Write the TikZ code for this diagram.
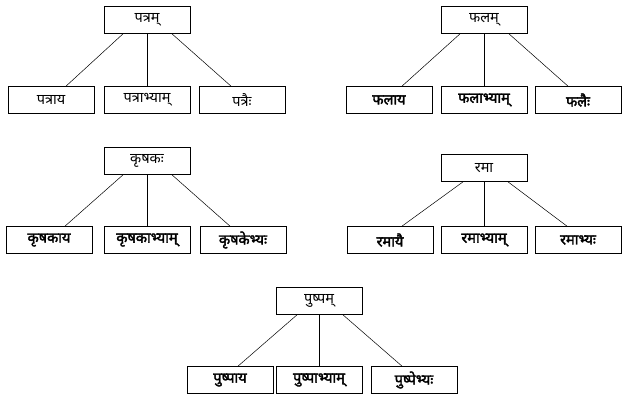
\documentclass[tikz,border=0pt]{standalone}
\usepackage{fontspec}
\newfontfamily\deva[Script=Devanagari,AutoFakeBold=2.5]{Noto Sans}
\usepackage{tikz}
\tikzstyle{shabda}=[draw, line width=.7pt, minimum width=86pt, minimum height=27pt,
  inner sep=0pt, font=\deva\fontsize{14.5}{16}\selectfont]
\tikzstyle{roop}=[shabda, font=\deva\bfseries\fontsize{14.5}{16}\selectfont]
\tikzstyle{shakha}=[line width=.5pt]

\begin{document}
\begin{tikzpicture}[x=1pt,y=-1pt]
    \useasboundingbox (0,0) rectangle (632,409);
    % patram
    \node[shabda] (P) at (147,20) {पत्रम्};
    \node[shabda] (P1) at (147-96,100) {पत्राय};
    \node[shabda] (P2) at (147,100) {पत्राभ्याम्};
    \node[shabda] (P3) at (147+95,100) {पत्रैः};
    \draw[shakha] ([xshift=-24pt]P.south) -- ([xshift=15pt]P1.north);
    \draw[shakha] (P.south) -- (P2.north);
    \draw[shakha] ([xshift=25pt]P.south) -- ([xshift=-11pt]P3.north);
    % phalam
    \node[shabda] (F) at (484,20) {फलम्};
    \node[roop] (F1) at (484-95,100) {फलाय};
    \node[roop] (F2) at (484,100) {फलाभ्याम्};
    \node[roop] (F3) at (484+94,100) {फलैः};
    \draw[shakha] ([xshift=-24pt]F.south) -- ([xshift=13pt]F1.north);
    \draw[shakha] (F.south) -- (F2.north);
    \draw[shakha] ([xshift=25pt]F.south) -- ([xshift=-10pt]F3.north);
    % krishakah
    \node[shabda] (K) at (147,161) {कृषकः};
    \node[roop] (K1) at (147-98,240) {कृषकाय};
    \node[roop] (K2) at (147,240) {कृषकाभ्याम्};
    \node[roop] (K3) at (147+96,240) {कृषकेभ्यः};
    \draw[shakha] ([xshift=-24pt]K.south) -- ([xshift=16pt]K1.north);
    \draw[shakha] (K.south) -- (K2.north);
    \draw[shakha] ([xshift=25pt]K.south) -- ([xshift=-13pt]K3.north);
    % rama
    \node[shabda] (R) at (484,168) {रमा};
    \node[roop] (R1) at (484-94,240) {रमायै};
    \node[roop] (R2) at (484,240) {रमाभ्याम्};
    \node[roop] (R3) at (484+94,240) {रमाभ्यः};
    \draw[shakha] ([xshift=-21pt]R.south) -- ([xshift=12pt]R1.north);
    \draw[shakha] (R.south) -- (R2.north);
    \draw[shakha] ([xshift=24pt]R.south) -- ([xshift=-11pt]R3.north);
    % pushpam
    \node[shabda] (S) at (319,301) {पुष्पम्};
    \node[roop] (S1) at (319-89,380) {पुष्पाय};
    \node[roop] (S2) at (319,380) {पुष्पाभ्याम्};
    \node[roop] (S3) at (319+95,380) {पुष्पेभ्यः};
    \draw[shakha] ([xshift=-22pt]S.south) -- ([xshift=8pt]S1.north);
    \draw[shakha] (S.south) -- (S2.north);
    \draw[shakha] ([xshift=24pt]S.south) -- ([xshift=-12pt]S3.north);
  \end{tikzpicture}
\end{document}
